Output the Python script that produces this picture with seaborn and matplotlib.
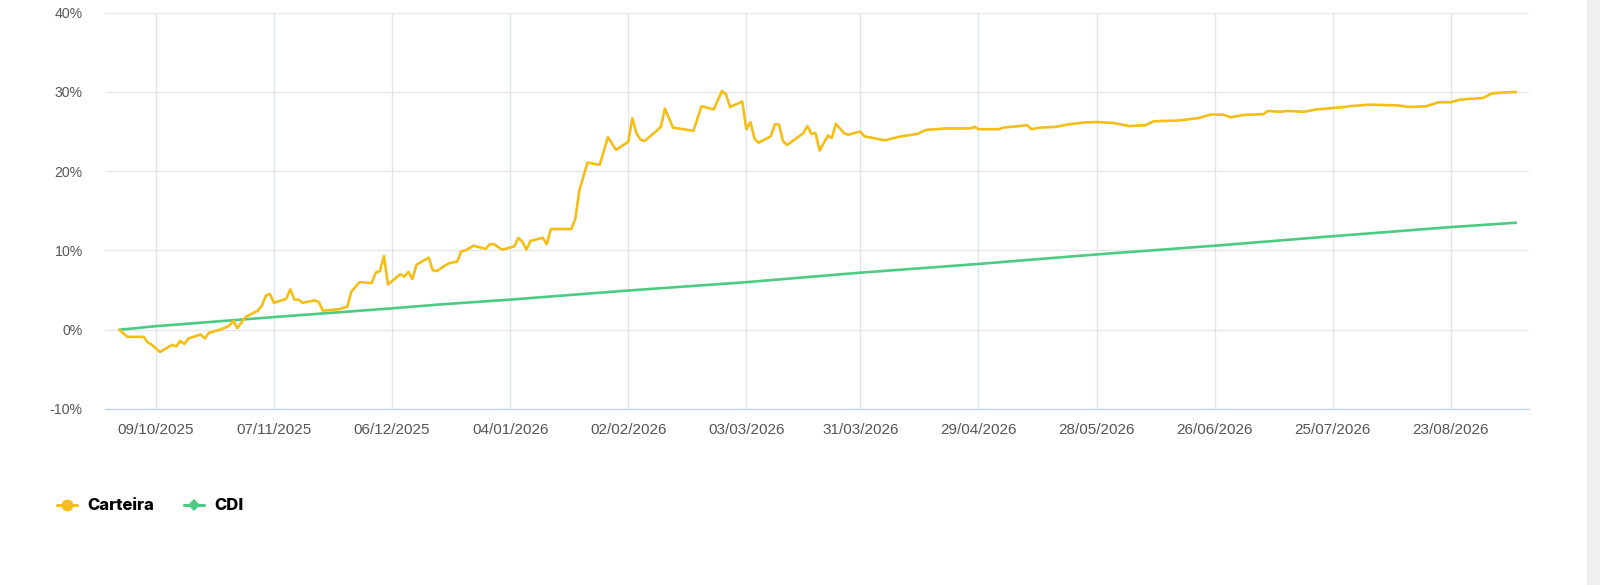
import matplotlib
matplotlib.use("Agg")
import matplotlib.pyplot as plt
import matplotlib.dates as mdates
from matplotlib.lines import Line2D
from matplotlib.patches import Rectangle
import numpy as np
import pandas as pd
import seaborn as sns

# ---------------- data ----------------
base_date = "2025-10-09"

# Carteira: day offsets from base_date and cumulative return (%)
carteira_days = [
    -9, -7, -3, -2, -1, 1, 4, 5, 6, 7, 8, 11, 12, 13, 16, 18, 19, 20, 22, 25,
    26, 27, 28, 29, 32, 33, 34, 35, 36, 39, 40, 41, 45, 47, 48, 50, 53, 54, 55, 56,
    57, 60, 61, 62, 63, 64, 67, 68, 69, 71, 72, 74, 75, 76, 78, 81, 82, 83, 85, 88,
    89, 90, 91, 92, 95, 96, 97, 102, 103, 104, 106, 109, 111, 113, 116, 117, 118, 119, 120, 123,
    124, 125, 127, 132, 134, 137, 139, 140, 141, 144, 145, 146, 147, 148, 151, 152, 153, 154, 155, 159,
    160, 161, 162, 163, 165, 166, 167, 169, 170, 173, 174, 179, 183, 187, 189, 194, 200, 201, 202, 207,
    208, 214, 215, 217, 221, 224, 228, 231, 235, 239, 243, 245, 251, 256, 259, 262, 264, 267, 272, 273,
    276, 278, 282, 285, 292, 293, 298, 305, 308, 312, 315, 318, 320, 322, 326, 328, 330, 334,
]
carteira_values = [
    0.0, -0.9, -0.9, -1.6, -1.9, -2.8, -1.9, -2.1, -1.4, -1.8, -1.1, -0.6, -1.1, -0.4, 0.05, 0.5, 1.1, 0.2, 1.6, 2.4,
    3.0, 4.3, 4.5, 3.4, 3.9, 5.1, 3.8, 3.8, 3.4, 3.7, 3.5, 2.4, 2.6, 2.9, 4.8, 6.0, 5.9, 7.2, 7.4, 9.3,
    5.7, 7.0, 6.7, 7.3, 6.4, 8.2, 9.1, 7.5, 7.4, 8.1, 8.4, 8.6, 9.9, 10.0, 10.6, 10.2, 10.8, 10.8, 10.1, 10.5,
    11.6, 11.1, 10.1, 11.2, 11.6, 10.8, 12.7, 12.7, 14.0, 17.6, 21.1, 20.8, 24.3, 22.7, 23.7, 26.7, 24.8, 24.0, 23.8, 25.1,
    25.6, 27.9, 25.5, 25.1, 28.2, 27.8, 30.1, 29.7, 28.1, 28.8, 25.3, 26.2, 24.1, 23.6, 24.4, 25.9, 25.9, 23.8, 23.3, 24.8,
    25.7, 24.7, 24.8, 22.6, 24.5, 24.2, 26.0, 24.8, 24.6, 25.0, 24.4, 23.9, 24.4, 24.7, 25.2, 25.4, 25.4, 25.6, 25.3, 25.3,
    25.5, 25.8, 25.3, 25.5, 25.6, 25.9, 26.15, 26.2, 26.1, 25.7, 25.8, 26.3, 26.4, 26.7, 27.15, 27.15, 26.8, 27.1, 27.2, 27.6,
    27.5, 27.6, 27.5, 27.8, 28.1, 28.2, 28.4, 28.3, 28.1, 28.2, 28.7, 28.7, 29.0, 29.1, 29.25, 29.8, 29.9, 30.0,
]

# CDI: day offsets from base_date and cumulative return (%)
cdi_days = [-9, 0, 29, 58, 70, 87, 116, 145, 173, 202, 231, 260, 289, 318, 334]
cdi_values = [0.0, 0.45, 1.6, 2.7, 3.2, 3.8, 4.95, 6.0, 7.2, 8.3, 9.5, 10.6, 11.8, 12.95, 13.5]

tick_labels = ["09/10/2025", "07/11/2025", "06/12/2025", "04/01/2026", "02/02/2026",
               "03/03/2026", "31/03/2026", "29/04/2026", "28/05/2026", "26/06/2026",
               "25/07/2026", "23/08/2026"]
y_ticks = [-10, 0, 10, 20, 30, 40]
series_names = ["Carteira", "CDI"]

# ---------------- styling ----------------
YELLOW = "#F5BE16"
GREEN = "#4CCB84"
W, H = 1600, 585

sns.set_theme(style="white")
plt.rcParams["font.family"] = ["Liberation Sans", "DejaVu Sans"]

base = pd.Timestamp(base_date)
df_c = pd.DataFrame({"date": base + pd.to_timedelta(carteira_days, unit="D"),
                     "value": carteira_values, "serie": series_names[0]})
df_d = pd.DataFrame({"date": base + pd.to_timedelta(cdi_days, unit="D"),
                     "value": cdi_values, "serie": series_names[1]})
df = pd.concat([df_c, df_d], ignore_index=True)

fig = plt.figure(figsize=(W / 100, H / 100), dpi=100)
fig.patch.set_facecolor("white")
# grey page strip on the right
fig.patches.append(Rectangle((1587 / W, 0), 1 - 1587 / W, 1, transform=fig.transFigure,
                             facecolor="#EFEFEF", edgecolor="none", zorder=0))

ax = fig.add_axes([105 / W, (H - 409) / H, (1529 - 105) / W, (409 - 12.7) / H])
ax.set_facecolor("none")

sns.lineplot(data=df, x="date", y="value", hue="serie",
             palette={series_names[0]: YELLOW, series_names[1]: GREEN},
             hue_order=[series_names[1], series_names[0]],
             linewidth=1.9, ax=ax, legend=False, estimator=None, sort=True)

ax.set_ylim(-10, 40)
ax.set_xlim(base - pd.Timedelta(days=12.5), base + pd.Timedelta(days=337.2))

tick_dates = pd.to_datetime(tick_labels, format="%d/%m/%Y")
ax.set_xticks(tick_dates)
ax.set_xticklabels(tick_labels)
ax.set_yticks(y_ticks)
ax.set_yticklabels([f"{v}%" for v in y_ticks])

ax.set_xlabel("")
ax.set_ylabel("")

ax.grid(axis="y", color="#E6E6E6", linewidth=1.0)
ax.grid(axis="x", color="#E1E6EE", linewidth=1.0)
ax.set_axisbelow(True)
for s in ["top", "right", "left"]:
    ax.spines[s].set_visible(False)
ax.spines["bottom"].set_color("#CCD6EB")
ax.spines["bottom"].set_linewidth(1.0)

ax.tick_params(axis="x", length=7.2, width=0.75, color="#CCD6EB", pad=3,
               labelsize=11, labelcolor="#555555")
ax.tick_params(axis="y", length=0, pad=16, labelsize=10.2, labelcolor="#555555")

handles = [
    Line2D([0], [0], color=YELLOW, lw=2.2, marker="o", markersize=8.5, markeredgewidth=0),
    Line2D([0], [0], color=GREEN, lw=2.2, marker="D", markersize=6, markeredgewidth=0),
]
leg = fig.legend(handles, series_names, loc="center left",
                 bbox_to_anchor=(57 / W, 1 - 506 / H), ncol=2, frameon=False,
                 handlelength=1.2, handletextpad=0.65, columnspacing=1.75,
                 borderpad=0, borderaxespad=0,
                 prop={"family": ["Inter", "DejaVu Sans"], "weight": "heavy", "size": 12})
for t in leg.get_texts():
    t.set_color("#000000")

fig.savefig("out.png", dpi=100, facecolor=fig.get_facecolor())
